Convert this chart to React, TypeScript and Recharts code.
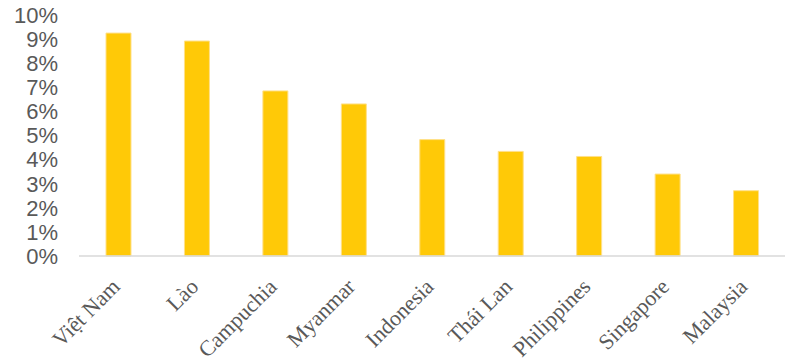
import React from 'react';
import { BarChart, Bar, XAxis, YAxis } from 'recharts';

const countries = ['Việt Nam', 'Lào', 'Campuchia', 'Myanmar', 'Indonesia', 'Thái Lan', 'Philippines', 'Singapore', 'Malaysia'];
const rates = [9.25, 8.92, 6.85, 6.31, 4.83, 4.34, 4.13, 3.4, 2.71];
const yTicks = [0, 1, 2, 3, 4, 5, 6, 7, 8, 9, 10];

const data = countries.map((name, i) => ({ name, value: rates[i] }));

const CountryTick = (props: any) => {
  const { x, y, payload } = props;
  const tx = x + 3;
  const ty = y + 24;
  return (
    <text
      x={tx}
      y={ty}
      transform={`rotate(-45, ${tx}, ${ty})`}
      textAnchor="end"
      fill="#595959"
      fontSize={22}
      fontFamily="'Liberation Serif', 'Times New Roman', serif"
    >
      {payload.value}
    </text>
  );
};

export default function App() {
  return (
    <div style={{ width: 785, height: 364 }}>
      <style>{'body { margin: 0; }'}</style>
      <BarChart width={785} height={364} data={data} margin={{ top: 15, right: 0, left: 0, bottom: 8 }}>
        <XAxis
          dataKey="name"
          interval={0}
          height={100}
          tickLine={false}
          axisLine={{ stroke: '#d9d9d9', strokeWidth: 1.5 }}
          tick={<CountryTick />}
        />
        <YAxis
          width={79}
          domain={[0, 10]}
          ticks={yTicks}
          interval={0}
          axisLine={false}
          tickLine={false}
          tickMargin={15}
          tickFormatter={(v: number) => `${v}%`}
          tick={{ fill: '#595959', fontSize: 22, fontFamily: "'Liberation Sans', Arial, sans-serif" }}
        />
        <Bar dataKey="value" fill="#ffc907" stroke="#ffe08a" strokeWidth={1} barSize={25} isAnimationActive={false} />
      </BarChart>
    </div>
  );
}
